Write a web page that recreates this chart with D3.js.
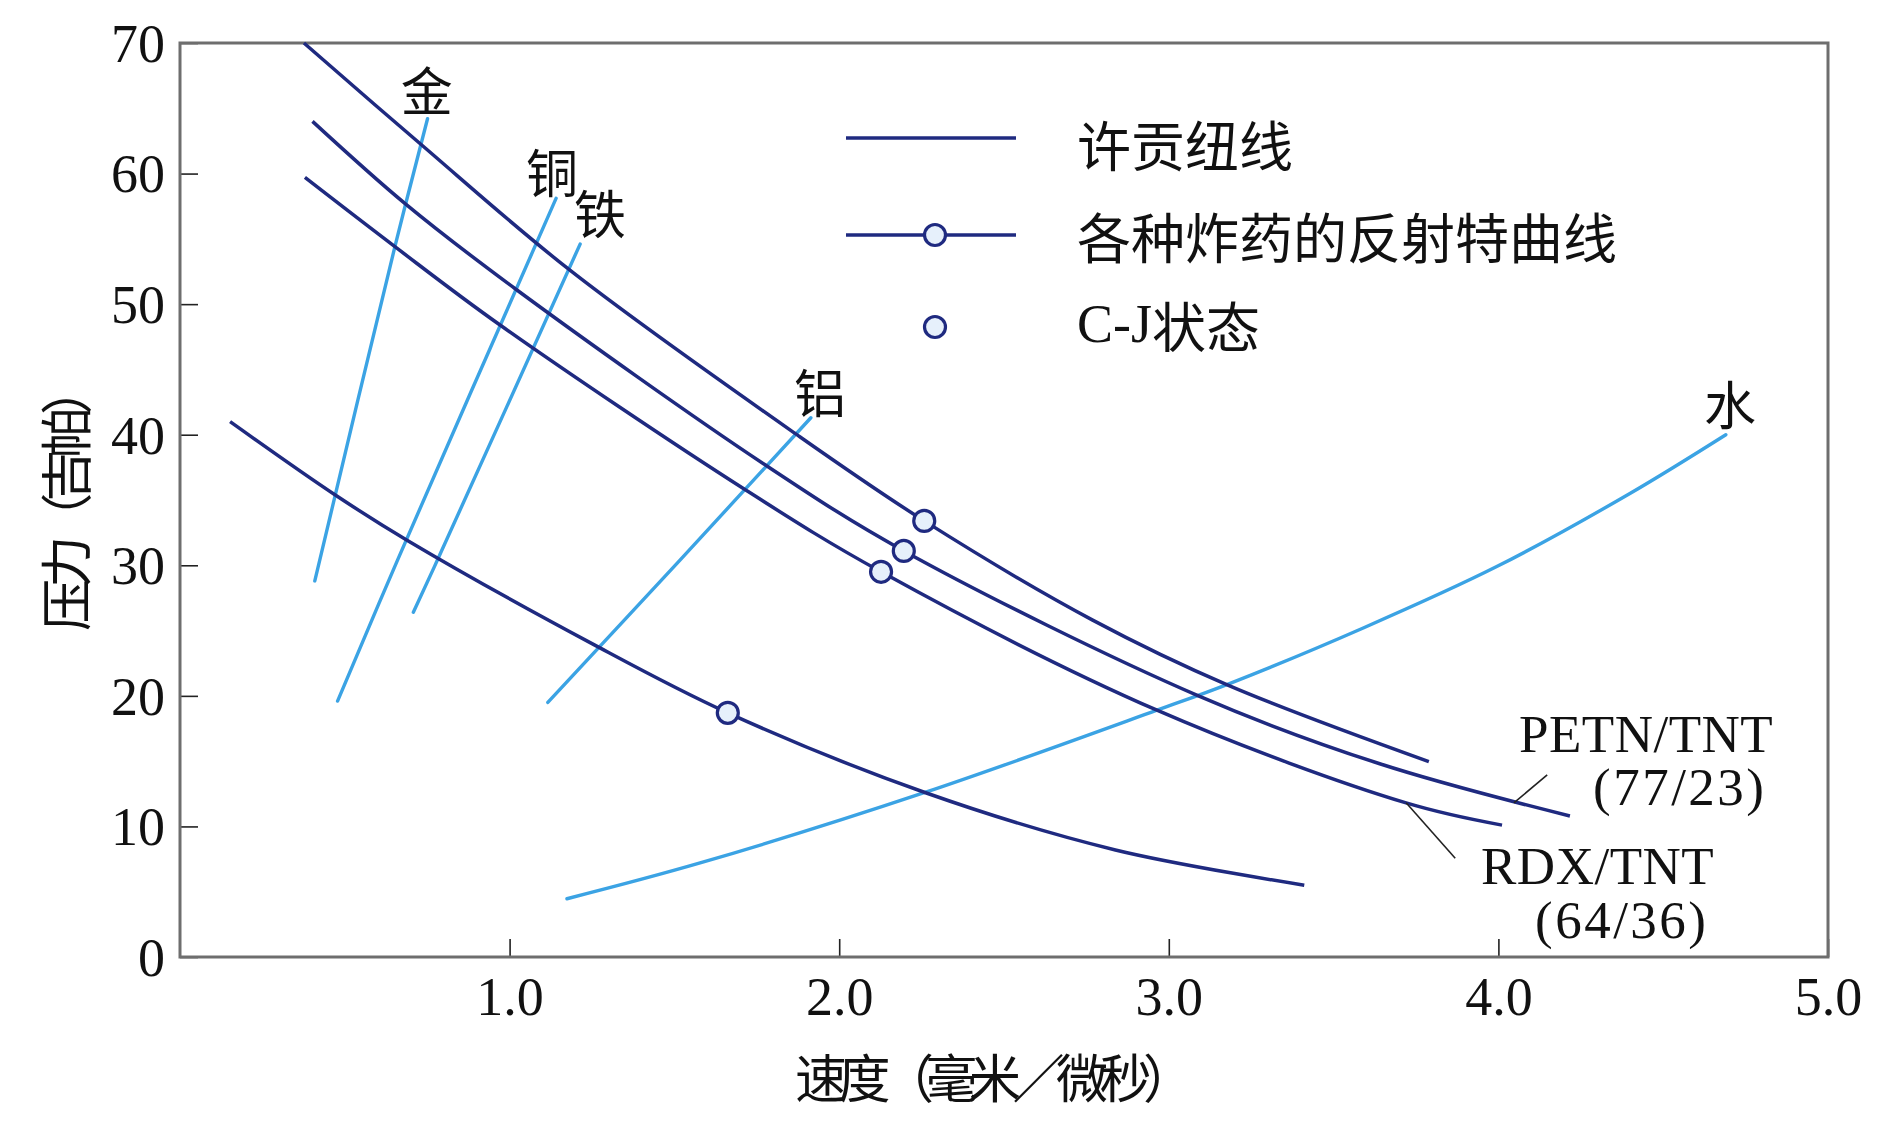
<!DOCTYPE html>
<html>
<head>
<meta charset="utf-8">
<script src="https://cdn.jsdelivr.net/npm/d3@7"></script>
<style>
  body { margin: 0; background: #fff; }
  svg { display: block; }
</style>
</head>
<body>
<svg width="1884" height="1130"></svg>
<script>
// values: x = 速度 (毫米/微秒), y = 压力 (吉帕)
var xTicks = [1, 2, 3, 4, 5];
var yTicks = [0, 10, 20, 30, 40, 50, 60, 70];

// reflected hugoniots of the explosives (dark)
var hugTop  = [[0.376, 70.0], [0.728, 62.3], [1.183, 52.6], [1.866, 40.1], [2.258, 33.4], [2.769, 25.8], [3.181, 20.8], [3.789, 14.96]];
var hugPetn = [[0.402, 64.0], [0.683, 57.7], [1.016, 51.2], [1.775, 37.7], [2.196, 31.1], [3.090, 20.0], [3.640, 14.8], [4.217, 10.8]];
var hugRdx  = [[0.379, 59.7], [0.652, 54.4], [0.971, 48.4], [1.714, 35.8], [2.127, 29.5], [2.964, 18.9], [3.720, 11.8], [4.011, 10.1]];
var hugLow  = [[0.152, 41.0], [0.470, 35.4], [0.690, 31.9], [1.250, 24.0], [1.662, 18.7], [2.260, 12.6], [2.838, 8.2], [3.411, 5.5]];

// C-J states
var cjPoints = [[2.258, 33.4], [2.196, 31.1], [2.127, 29.5], [1.662, 18.7]];

// hugoniots of the target materials (light)
var gold     = [[0.409, 28.8], [0.652, 54.4], [0.751, 64.2]];
var copper   = [[0.478, 19.6], [0.660, 30.4], [1.141, 58.1]];
var iron     = [[0.708, 26.4], [0.781, 30.4], [1.214, 54.6]];
var aluminum = [[1.116, 19.5], [1.517, 30.4], [1.914, 41.3]];
var water    = [[1.174, 4.46], [1.578, 7.2], [2.260, 12.6], [2.964, 18.9], [3.186, 20.96], [3.590, 25.2], [3.995, 29.9], [4.399, 35.5], [4.690, 40.0]];

var legendLabels = ["许贡纽线", "各种炸药的反射特曲线", "状态"];

var navy = "#1f2a80",
    sky = "#3ba3e4",
    dotFill = "#e6f0fb",
    serif = "'Liberation Serif', 'DejaVu Serif', serif",
    cjk = "'Noto Sans CJK SC', sans-serif";

var svg = d3.select("svg"),
    margin = {top: 43, right: 56, bottom: 173, left: 180},
    width = +svg.attr("width") - margin.left - margin.right,
    height = +svg.attr("height") - margin.top - margin.bottom,
    g = svg.append("g").attr("transform", "translate(" + margin.left + "," + margin.top + ")");

var x = d3.scaleLinear().domain([0, 5]).range([0, width]);
var y = d3.scaleLinear().domain([0, 70]).range([height, 0]);

var line = d3.line()
    .x(function(d) { return x(d[0]); })
    .y(function(d) { return y(d[1]); })
    .curve(d3.curveCatmullRom);

// axes, ticks pointing inward
var xAxis = g.append("g")
    .attr("transform", "translate(0," + height + ")")
    .call(d3.axisBottom(x).tickValues(xTicks).tickSizeInner(-18).tickSizeOuter(0)
      .tickPadding(20).tickFormat(d3.format(".1f")));

var yAxis = g.append("g")
    .call(d3.axisLeft(y).tickValues(yTicks).tickSizeInner(-18).tickSizeOuter(0)
      .tickPadding(15).tickFormat(d3.format("d")));

[xAxis, yAxis].forEach(function(a) {
  a.select(".domain").remove();
  a.attr("font-family", serif).attr("font-size", 54);
  a.selectAll(".tick line").attr("stroke", "#222").attr("stroke-width", 1.6);
  a.selectAll(".tick text").attr("fill", "#111");
});
yAxis.selectAll(".tick text").attr("dy", "0.34em");

g.append("rect")
    .attr("width", width)
    .attr("height", height)
    .attr("fill", "none")
    .attr("stroke", "#6e6e6e")
    .attr("stroke-width", 3);

// axis titles
svg.append("text")
    .attr("transform", "translate(63,497) rotate(-90)")
    .attr("text-anchor", "middle")
    .attr("dominant-baseline", "central")
    .attr("font-family", cjk)
    .attr("font-size", 52)
    .attr("textLength", 268)
    .attr("lengthAdjust", "spacing")
    .attr("fill", "#111")
    .text("压力（吉帕）");

svg.append("text")
    .attr("x", 995)
    .attr("y", 1075)
    .attr("text-anchor", "middle")
    .attr("dominant-baseline", "central")
    .attr("font-family", cjk)
    .attr("font-size", 52)
    .attr("textLength", 400)
    .attr("lengthAdjust", "spacing")
    .attr("fill", "#111")
    .text("速度（毫米／微秒）");

// metal and water lines
[gold, copper, iron, aluminum, water].forEach(function(d) {
  g.append("path")
      .datum(d)
      .attr("d", line)
      .attr("fill", "none")
      .attr("stroke", sky)
      .attr("stroke-width", 3.4)
      .attr("stroke-linecap", "round");
});

// explosive curves
[hugTop, hugPetn, hugRdx, hugLow].forEach(function(d) {
  g.append("path")
      .datum(d)
      .attr("d", line)
      .attr("fill", "none")
      .attr("stroke", navy)
      .attr("stroke-width", 3.5);
});

g.selectAll(".cj")
    .data(cjPoints)
  .enter().append("circle")
    .attr("class", "cj")
    .attr("cx", function(d) { return x(d[0]); })
    .attr("cy", function(d) { return y(d[1]); })
    .attr("r", 10.5)
    .attr("fill", dotFill)
    .attr("stroke", navy)
    .attr("stroke-width", 3.2);

// leader lines to the mixture labels
var leaders = [[[4.148, 13.94], [4.047, 11.81]], [[3.720, 11.81], [3.869, 7.56]]];
leaders.forEach(function(d) {
  g.append("path")
      .datum(d)
      .attr("d", d3.line().x(function(p) { return x(p[0]); }).y(function(p) { return y(p[1]); }))
      .attr("stroke", "#222")
      .attr("stroke-width", 1.6);
});

// material labels
var matLabels = [
  {t: "金", x: 0.749, y: 66.5},
  {t: "铜", x: 1.129, y: 60.2},
  {t: "铁", x: 1.274, y: 57.1},
  {t: "铝", x: 1.942, y: 43.4},
  {t: "水", x: 4.703, y: 42.5}
];
g.selectAll(".mat")
    .data(matLabels)
  .enter().append("text")
    .attr("class", "mat")
    .attr("x", function(d) { return x(d.x); })
    .attr("y", function(d) { return y(d.y); })
    .attr("text-anchor", "middle")
    .attr("dominant-baseline", "central")
    .attr("font-family", cjk)
    .attr("font-size", 52)
    .attr("fill", "#111")
    .text(function(d) { return d.t; });

// mixture labels
var mixLabels = [
  {t: "PETN/TNT", px: 1519, py: 752},
  {t: "(77/23)", px: 1593, py: 805},
  {t: "RDX/TNT", px: 1481, py: 884},
  {t: "(64/36)", px: 1535, py: 938}
];
svg.selectAll(".mix")
    .data(mixLabels)
  .enter().append("text")
    .attr("class", "mix")
    .attr("x", function(d) { return d.px; })
    .attr("y", function(d) { return d.py; })
    .attr("font-family", serif)
    .attr("font-size", 53)
    .attr("letter-spacing", function(d) { return d.t.charAt(0) == "(" ? 2.5 : 0.5; })
    .attr("fill", "#111")
    .text(function(d) { return d.t; });

// legend
var lg = svg.append("g");
lg.append("line").attr("x1", 846).attr("x2", 1016).attr("y1", 138).attr("y2", 138)
    .attr("stroke", navy).attr("stroke-width", 3.5);
lg.append("line").attr("x1", 846).attr("x2", 1016).attr("y1", 235).attr("y2", 235)
    .attr("stroke", navy).attr("stroke-width", 3.5);
[235, 327].forEach(function(cy) {
  lg.append("circle").attr("cx", 935).attr("cy", cy).attr("r", 10.5)
      .attr("fill", dotFill).attr("stroke", navy).attr("stroke-width", 3.2);
});
[143, 235].forEach(function(cy, i) {
  lg.append("text").attr("x", 1077).attr("y", cy)
      .attr("dominant-baseline", "central")
      .attr("font-family", cjk).attr("font-size", 54).attr("fill", "#111")
      .text(legendLabels[i]);
});
var cjText = lg.append("text").attr("x", 1077).attr("y", 324)
    .attr("dominant-baseline", "central")
    .attr("font-size", 54).attr("fill", "#111");
cjText.append("tspan").attr("font-family", serif).text("C-J");
cjText.append("tspan").attr("font-family", cjk).text(legendLabels[2]);
</script>
</body>
</html>
